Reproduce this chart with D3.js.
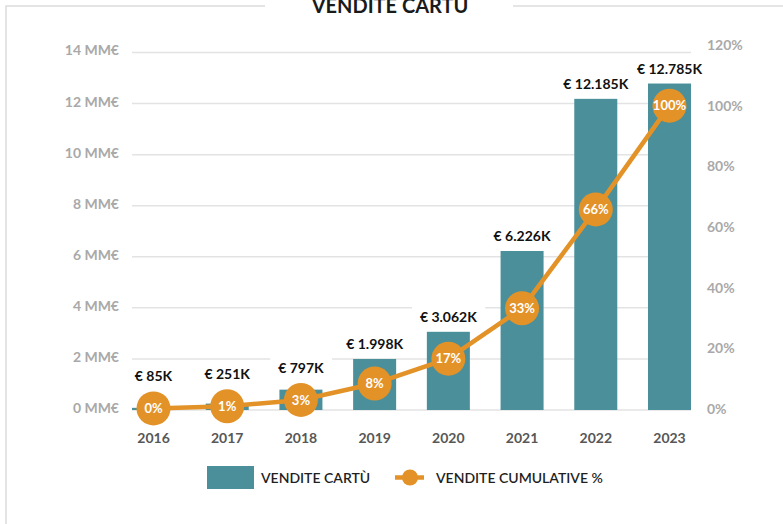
<!DOCTYPE html>
<html>
<head>
<meta charset="utf-8">
<script src="https://cdn.jsdelivr.net/npm/d3@7"></script>
<style>
  html, body { margin: 0; padding: 0; background: #fff; }
  svg { display: block; font-family: Lato, "Open Sans", sans-serif; }
</style>
</head>
<body>
<div id="chart"></div>
<script>
// --------------- Data ---------------
const years = ["2016", "2017", "2018", "2019", "2020", "2021", "2022", "2023"];
const sales = [0.085, 0.251, 0.797, 1.998, 3.062, 6.226, 12.185, 12.785]; // MM€
const salesLabels = ["€ 85K", "€ 251K", "€ 797K", "€ 1.998K", "€ 3.062K", "€ 6.226K", "€ 12.185K", "€ 12.785K"];
const cumPct = [0.2, 0.9, 3.0, 8.4, 16.6, 33.2, 65.8, 100];
const cumLabels = ["0%", "1%", "3%", "8%", "17%", "33%", "66%", "100%"];
const leftTicks = [0, 2, 4, 6, 8, 10, 12, 14];
const rightTicks = [0, 20, 40, 60, 80, 100, 120];
const legendNames = ["VENDITE CARTÙ", "VENDITE CUMULATIVE %"];

// --------------- Constants ---------------
const WIDTH = 783;
const HEIGHT = 524;
const BAR_COLOR = "#4a8f9a";
const LINE_COLOR = "#e39228";
const GRID_COLOR = "#e3e3e3";
const FRAME_COLOR = "#dcdcdc";
const AXIS_TEXT = "#a9a9a9";

const svg = d3.select("#chart")
  .append("svg")
  .attr("width", WIDTH)
  .attr("height", HEIGHT);

// Scales
const x = d3.scaleBand()
  .domain(years)
  .range([132, 691])
  .paddingInner(0.4166)
  .paddingOuter(0);

const yLeft = d3.scaleLinear().domain([0, 14]).range([410, 52.5]);
const yRight = d3.scaleLinear().domain([0, 120]).range([409, 45]);

// Frame with title gap
const frame = svg.append("g")
  .attr("fill", "none")
  .attr("stroke", FRAME_COLOR)
  .attr("stroke-width", 1.5);
frame.append("path").attr("d", "M6," + HEIGHT + " V6 H265");
frame.append("path").attr("d", "M513,6 H" + WIDTH);

// title sits on the frame's top edge, partly clipped like the source
svg.append("text")
  .attr("x", 390)
  .attr("y", 12.5)
  .attr("text-anchor", "middle")
  .attr("font-size", 20)
  .attr("font-weight", 700)
  .attr("fill", "#1a1a1a")
  .text("VENDITE CARTÙ");

// Gridlines
svg.append("g")
  .selectAll("line")
  .data(leftTicks)
  .enter()
  .append("line")
  .attr("x1", x.range()[0])
  .attr("x2", x.range()[1])
  .attr("y1", (d) => yLeft(d))
  .attr("y2", (d) => yLeft(d))
  .attr("stroke", GRID_COLOR)
  .attr("stroke-width", 1.5);

// Axes
const leftAxis = svg.append("g")
  .attr("transform", "translate(127,-2)")
  .call(d3.axisLeft(yLeft).tickValues(leftTicks).tickSize(0).tickPadding(8).tickFormat((d) => d + " MM€"));

const rightAxis = svg.append("g")
  .attr("transform", "translate(699,0)")
  .call(d3.axisRight(yRight).tickValues(rightTicks).tickSize(0).tickPadding(8).tickFormat((d) => d + "%"));

const xAxis = svg.append("g")
  .attr("transform", "translate(0,410)")
  .call(d3.axisBottom(x).tickSize(0).tickPadding(23));

[leftAxis, rightAxis, xAxis].forEach((a) => {
  a.select(".domain").remove();
  a.selectAll("text")
    .attr("font-family", "Lato, sans-serif")
    .attr("font-size", 14)
    .attr("font-weight", 700)
    .attr("fill", AXIS_TEXT);
});
xAxis.selectAll("text").attr("fill", "#575757");

// Bars
svg.append("g")
  .selectAll("rect")
  .data(sales)
  .enter()
  .append("rect")
  .attr("x", (_d, i) => x(years[i]))
  .attr("y", (d) => yLeft(d))
  .attr("width", x.bandwidth())
  .attr("height", (d) => yLeft(0) - yLeft(d))
  .attr("fill", BAR_COLOR);

// Value labels with white backing
const labelY = (i) => Math.min(yLeft(sales[i]), yRight(cumPct[i]) - 17) - 15;
const labels = svg.append("g")
  .selectAll("g")
  .data(salesLabels)
  .enter()
  .append("g")
  .attr("transform", (_d, i) => `translate(${x(years[i]) + x.bandwidth() / 2},${labelY(i)})`);

labels.append("rect")
  .attr("fill", "#fff");

labels.append("text")
  .attr("text-anchor", "middle")
  .attr("dy", "0.36em")
  .attr("font-size", 14)
  .attr("font-weight", 700)
  .attr("fill", "#111")
  .text((d) => d);

labels.each(function () {
  const g = d3.select(this);
  const b = g.select("text").node().getBBox();
  g.select("rect")
    .attr("x", b.x - 8)
    .attr("y", b.y - 2)
    .attr("width", b.width + 16)
    .attr("height", b.height + 4);
});

// Cumulative line
const line = d3.line()
  .x((_d, i) => x(years[i]) + x.bandwidth() / 2)
  .y((d) => yRight(d));

svg.append("path")
  .datum(cumPct)
  .attr("d", line)
  .attr("fill", "none")
  .attr("stroke", LINE_COLOR)
  .attr("stroke-width", 4.5);

const dots = svg.append("g")
  .selectAll("g")
  .data(cumPct)
  .enter()
  .append("g")
  .attr("transform", (d, i) => `translate(${x(years[i]) + x.bandwidth() / 2},${yRight(d)})`);

dots.append("circle")
  .attr("r", 17)
  .attr("fill", LINE_COLOR);

dots.append("text")
  .attr("text-anchor", "middle")
  .attr("dy", "0.36em")
  .attr("font-size", 13)
  .attr("font-weight", 700)
  .attr("fill", "#fff")
  .text((_d, i) => cumLabels[i]);

// Legend
const legend = svg.append("g");
legend.append("rect")
  .attr("x", 207)
  .attr("y", 466)
  .attr("width", 47)
  .attr("height", 23)
  .attr("fill", BAR_COLOR);
legend.append("line")
  .attr("x1", 395)
  .attr("x2", 424)
  .attr("y1", 477.5)
  .attr("y2", 477.5)
  .attr("stroke", LINE_COLOR)
  .attr("stroke-width", 4.5);
legend.append("circle")
  .attr("cx", 410)
  .attr("cy", 477.5)
  .attr("r", 8)
  .attr("fill", LINE_COLOR);
legend.selectAll("text")
  .data(legendNames)
  .enter()
  .append("text")
  .attr("x", (_d, i) => (i === 0 ? 261 : 436))
  .attr("y", 477.5)
  .attr("dy", "0.36em")
  .attr("font-size", 14)
  .attr("font-weight", 600)
  .attr("fill", "#1f1f1f")
  .text((d) => d);
</script>
</body>
</html>
